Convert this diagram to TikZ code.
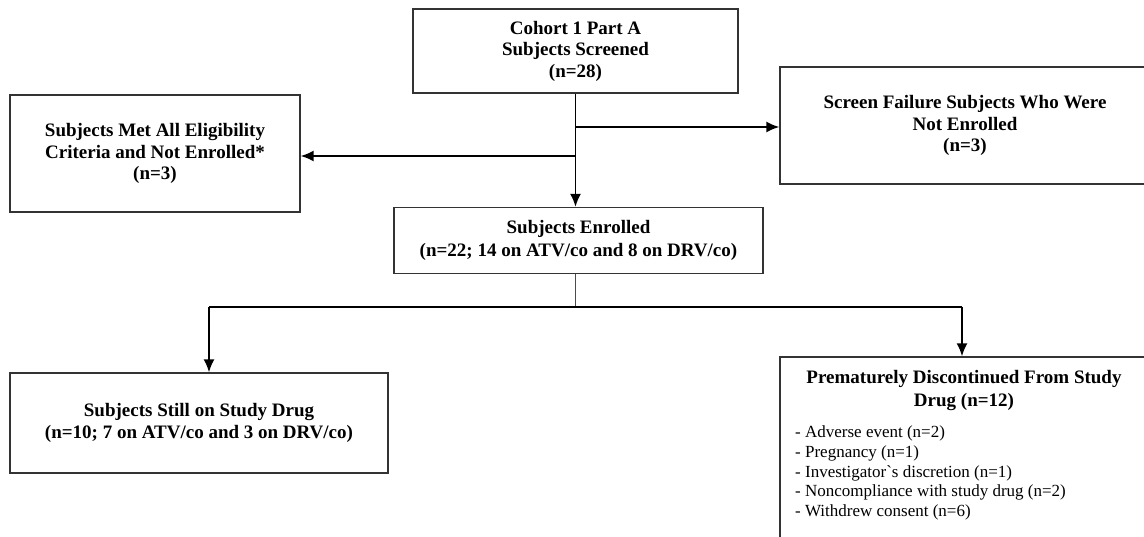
\documentclass[tikz,border=0pt]{standalone}
\usepackage{fontspec}
\setmainfont{Liberation Serif}
\usetikzlibrary{arrows.meta}

\begin{document}
\begin{tikzpicture}[x=1pt,y=-1pt,
	box/.style={draw=black!80, line width=1.3pt, align=center, inner sep=0pt, font=\bfseries\fontsize{19}{21.5}\selectfont},
	link/.style={line width=1.8pt, -{Latex[length=13pt,width=11pt]}}]
	\useasboundingbox (0,0) rectangle (1144,537);
	\clip (0,0) rectangle (1144,537);
	\node[box, minimum width=325pt, minimum height=84pt] (screened) at (575.5,51) {Cohort 1 Part A\\Subjects Screened\\(n=28)};
	\node[box, minimum width=290pt, minimum height=117pt] (eligible) at (155,153.5) {Subjects Met All Eligibility\\Criteria and Not Enrolled*\\(n=3)};
	\node[box, minimum width=370pt, minimum height=117pt] (failure) at (965,125.5) {Screen Failure Subjects Who Were\\Not Enrolled\\(n=3)};
	\node[box, minimum width=369pt, minimum height=66pt, font=\bfseries\fontsize{19}{23}\selectfont] (enrolled) at (578.5,240.5) {Subjects Enrolled\\(n=22; 14 on ATV/co and 8 on DRV/co)};
	\node[box, minimum width=378pt, minimum height=100pt, font=\bfseries\fontsize{19}{22}\selectfont] (still) at (199,423) {Subjects Still on Study Drug\\(n=10; 7 on ATV/co and 3 on DRV/co)};
	\node[box, minimum width=370pt, minimum height=210pt] (disc) at (965,462) {};
	\node[font=\bfseries\fontsize{19}{23}\selectfont, align=center, inner sep=0pt] (disctitle) at (964,391) {Prematurely Discontinued From Study\\Drug (n=12)};
	\node[font=\fontsize{17}{19.6}\selectfont, align=left, anchor=north west, inner sep=0pt] (disclist) at (795,426) {- Adverse event (n=2)\\- Pregnancy (n=1)\\- Investigator\textasciigrave s discretion (n=1)\\- Noncompliance with study drug (n=2)\\- Withdrew consent (n=6)};
	\coordinate (rsplit) at (575.5,127);
	\coordinate (lsplit) at (575.5,156);
	\coordinate (fork) at (575.5,307);
	\coordinate (lfork) at (209,307);
	\coordinate (rfork) at (962,307);
	\draw[link] (screened.south) -- (screened.south |- enrolled.north);
	\draw[link] (rsplit) -- (rsplit -| failure.west);
	\draw[link] (lsplit) -- (lsplit -| eligible.east);
	\draw[draw=black!70, line width=1.2pt] (fork |- enrolled.south) -- (fork);
	\draw[line width=1.5pt] (lfork) -- (rfork);
	\draw[link] (lfork) -- (lfork |- still.north);
	\draw[link] (rfork) -- (rfork |- disc.north);
\end{tikzpicture}
\end{document}
